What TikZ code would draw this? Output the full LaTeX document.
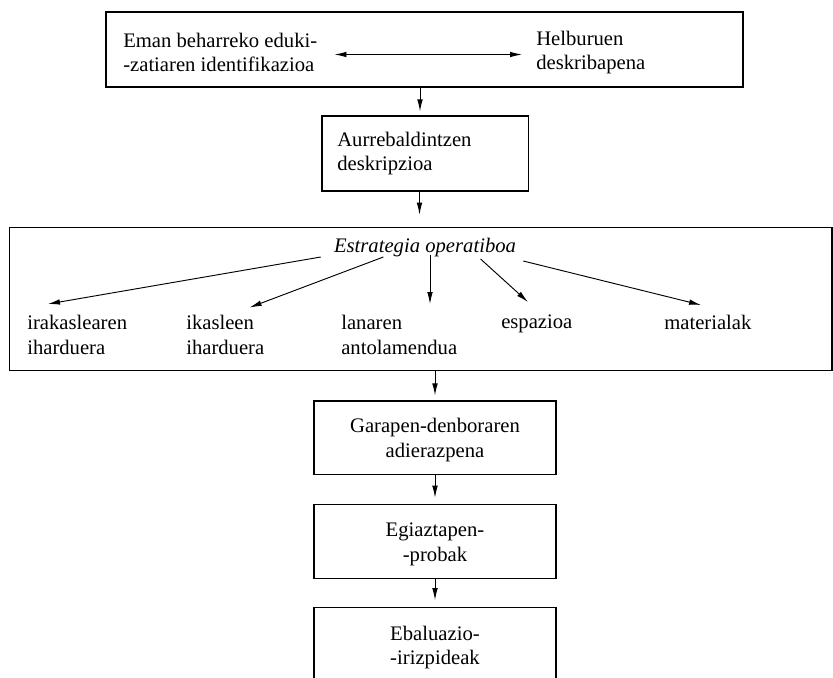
\documentclass[tikz,border=0pt]{standalone}
\usepackage{fontspec}
\setmainfont{Liberation Serif}
\usetikzlibrary{arrows.meta,fit,calc}

\begin{document}
\begin{tikzpicture}[x=0.75pt,y=-0.75pt,
  box/.style={draw, line width=0.9pt, inner sep=0pt},
  txt/.style={font=\fontsize{15.5}{18.5}\selectfont, inner sep=0pt, align=left},
  ctxt/.style={font=\fontsize{15.5}{18.5}\selectfont, inner sep=0pt, align=center},
  arr/.style={line width=0.7pt, -{Latex[length=9pt,width=4.2pt]}},
  darr/.style={line width=0.7pt, {Latex[length=9pt,width=4.2pt]}-{Latex[length=9pt,width=4.2pt]}},
]
\useasboundingbox (0,0) rectangle (833,678);

% first stage: content and objectives
\node[box, fit={(106,12) (743,87)}] (top) {};
\node[txt, anchor=west] (eman) at (123,52.5) {Eman beharreko eduki-\\-zatiaren identifikazioa};
\node[txt, anchor=west] (helb) at (536,52.5) {Helburuen\\deskribapena};
\draw[darr] ($(eman.east)+(17,2)$) -- ($(helb.west)+(-14,2)$);

% prerequisites
\node[box, fit={(322,116) (528.5,191)}] (pre) {};
\node[txt, anchor=west] (pret) at (337,153.5) {Aurrebaldintzen\\deskripzioa};
\draw[arr] ($(top.south)+(-4.5,0)$) -- ($(top.south |- pre.north)+(-4.5,-4)$);

% operative strategy
\node[box, fit={(9.3,227.3) (832,370.7)}] (big) {};
\draw[arr] ($(pre.south)+(-5.75,0)$) -- ($(pre.south |- big.north)+(-5.75,-12)$);
\node[txt, font=\fontsize{15.5}{18.5}\selectfont\itshape] (est) at (425,248) {Estrategia operatiboa};

\node[txt, anchor=north west] (irak) at (27,315) {irakaslearen\\iharduera};
\node[txt, anchor=north west] (ikas) at (186,315) {ikasleen\\iharduera};
\node[txt, anchor=north west] (lan) at (341,315) {lanaren\\antolamendua};
\node[txt, anchor=north west] (esp) at (501,315) {espazioa};
\node[txt, anchor=north west] (mat) at (664,315) {materialak};

\draw[arr] ($(est.west)+(-13,9)$) -- ($(irak.north west)+(21,-11)$);
\draw[arr] ($(est.center)+(-41.6,9)$) -- ($(ikas.north west)+(63.6,-7.5)$);
\draw[arr] ($(est.south)+(5,-3)$) -- ($(est.south |- lan.north)+(5,-11)$);
\draw[arr] ($(est.center)+(55.6,11)$) -- ($(esp.north west)+(27,-13)$);
\draw[arr] ($(est.east)+(7,13)$) -- ($(mat.north west)+(37,-10)$);

% remaining stages
\node[box, fit={(314,401) (556,474.3)}] (dur) {};
\node[ctxt] (durt) at (435,440) {Garapen-denboraren\\adierazpena};
\node[box, fit={(314,504.3) (556,578.3)}] (prob) {};
\node[ctxt] (probt) at (435,544.5) {Egiaztapen-\\-probak};
\node[box, fit={(314,607.7) (556,700)}] (eval) {};
\node[ctxt] (evalt) at (435,647.5) {Ebaluazio-\\-irizpideak};

\draw[arr] (big.south -| dur.north) -- ($(dur.north)+(0,-5)$);
\draw[arr] (dur.south) -- ($(prob.north)+(0,-6)$);
\draw[arr] (prob.south) -- ($(eval.north)+(0,-7)$);
\end{tikzpicture}
\end{document}
